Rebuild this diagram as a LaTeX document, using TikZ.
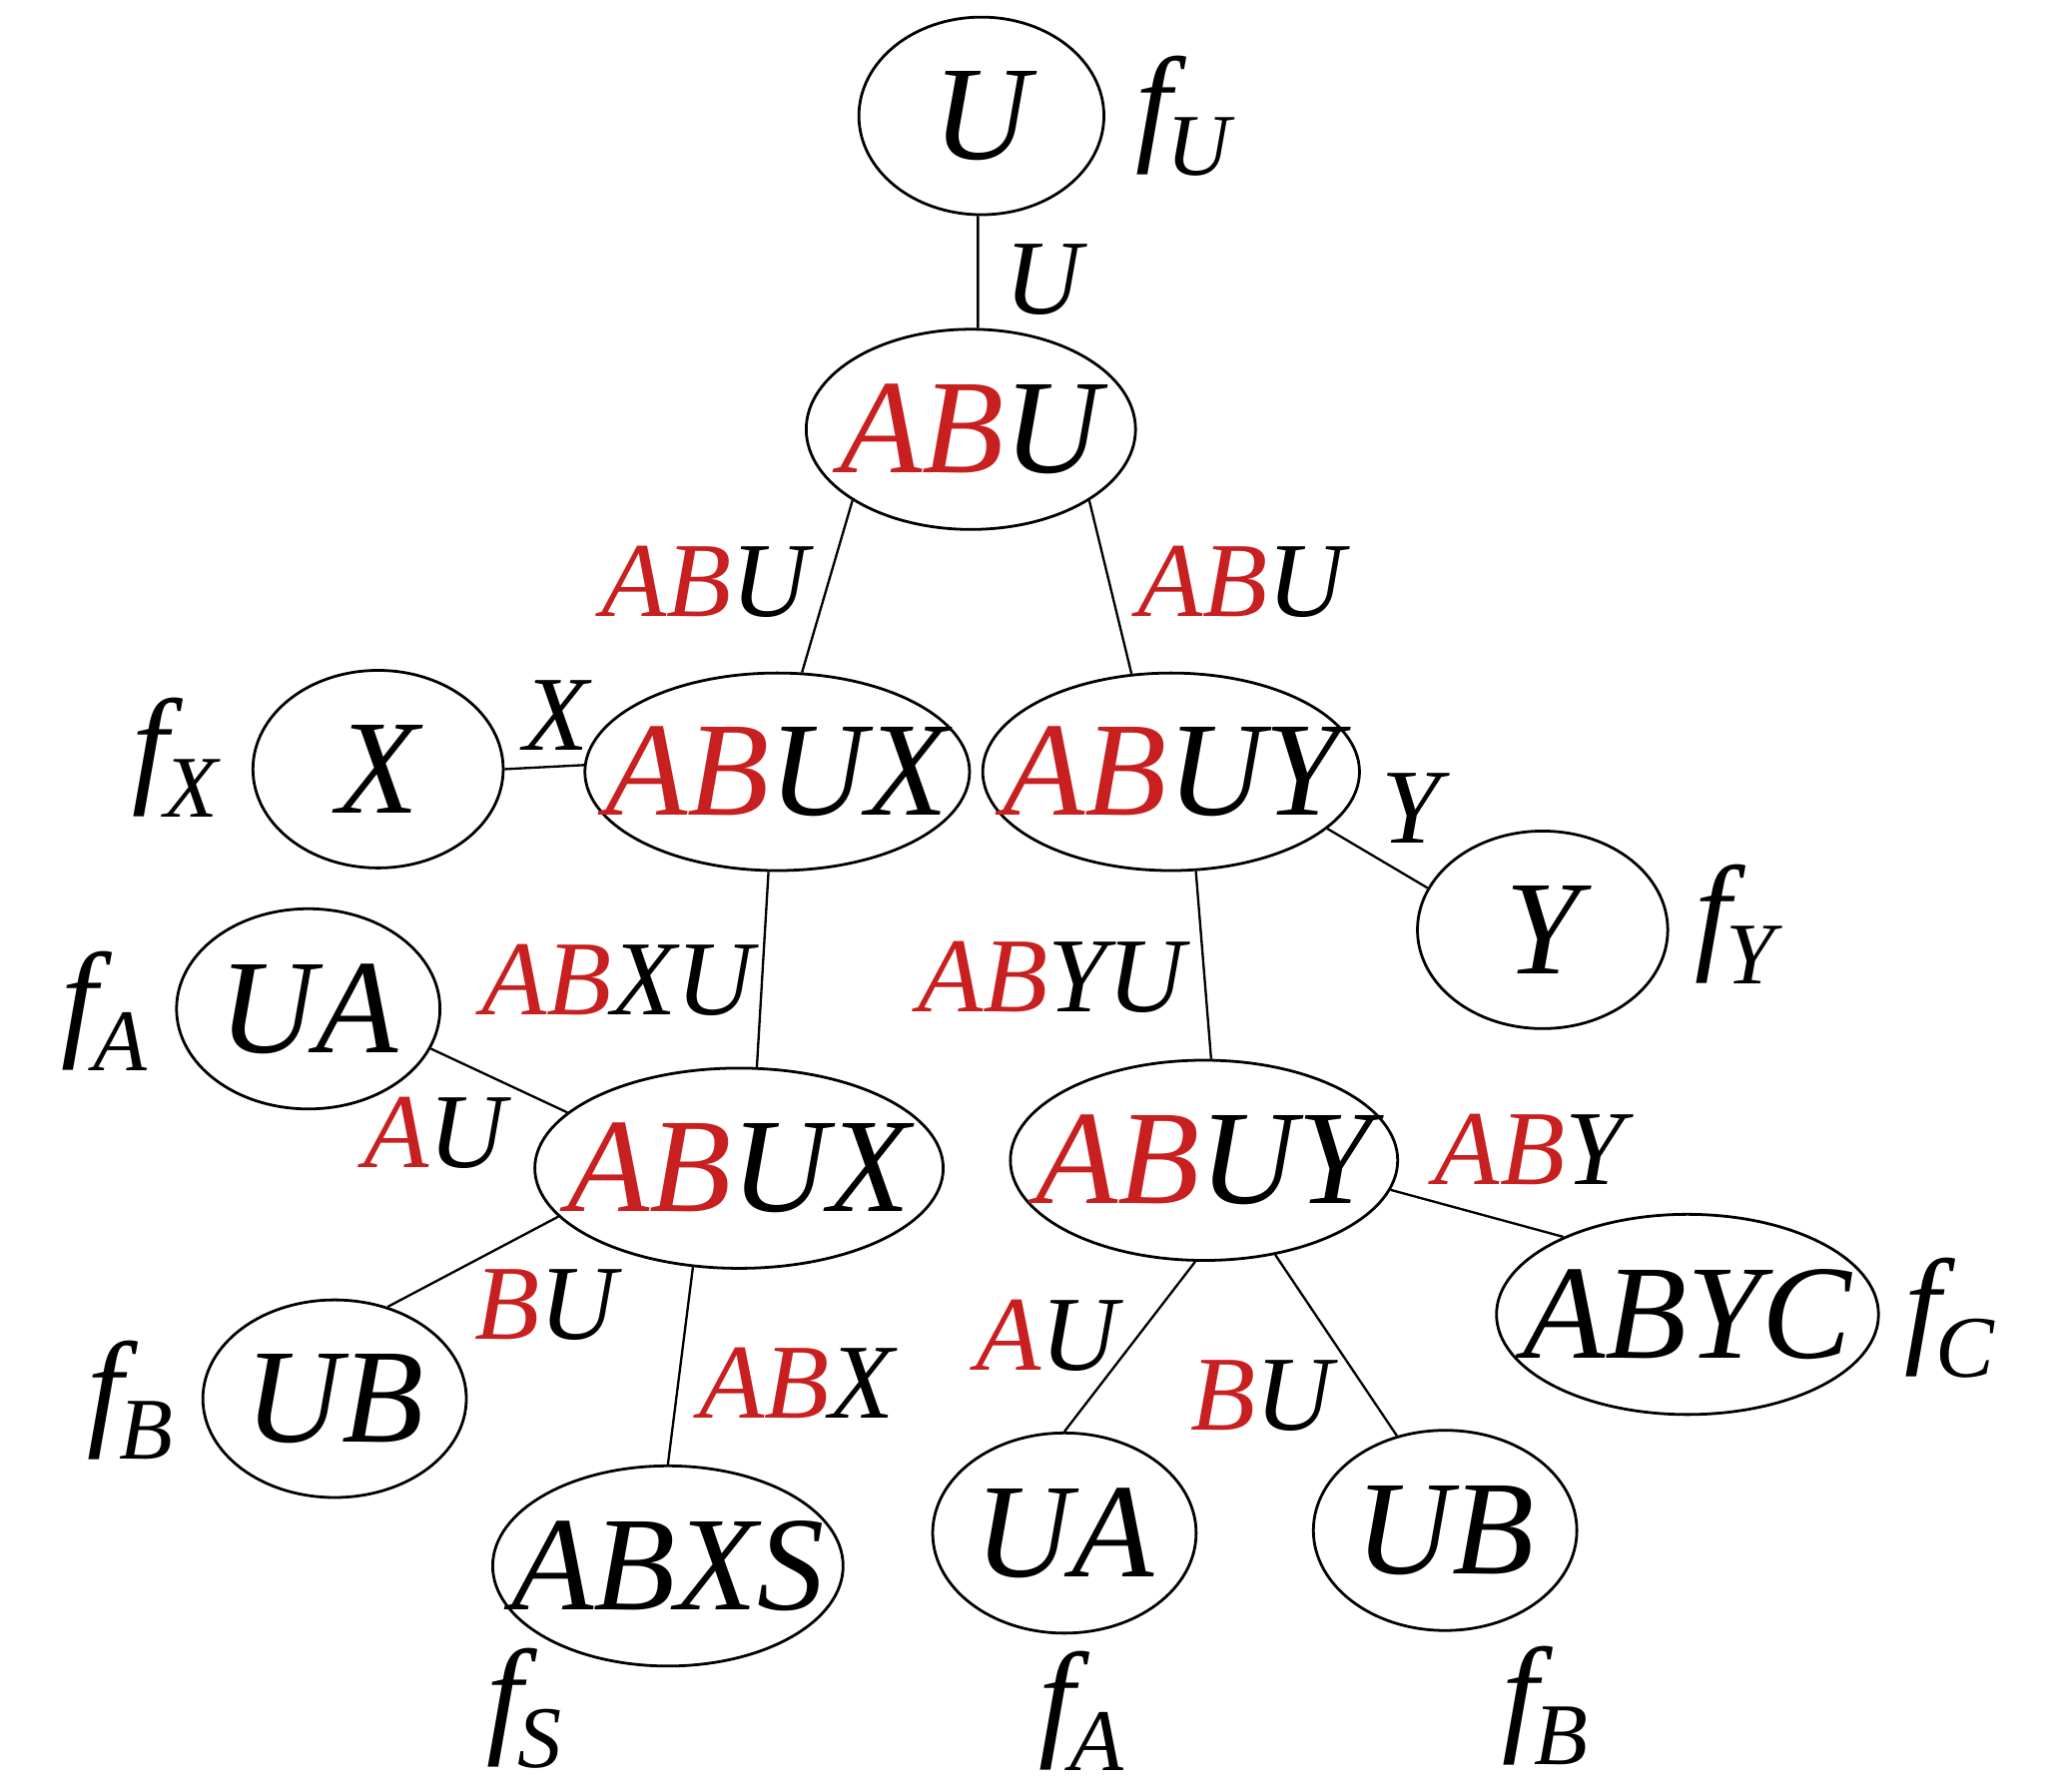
\documentclass[tikz,border=0pt]{standalone}
\usepackage{fontspec}
\setmainfont{Liberation Serif}
\usetikzlibrary{shapes.geometric}
\definecolor{myred}{RGB}{200,32,32}
\newcommand{\R}[1]{\textcolor{myred}{#1}}
\newcommand{\fsub}[1]{f\kern-1pt\raisebox{-6pt}{\fontsize{19}{19}\selectfont\itshape #1}}
\tikzset{
  ell/.style={draw, ellipse, inner sep=0pt, line width=0.6pt},
  intext/.style={font=\fontsize{29}{29}\selectfont\itshape, inner sep=0pt},
  elab/.style={font=\fontsize{23}{23}\selectfont\itshape, inner sep=0pt},
  flab/.style={font=\fontsize{28}{28}\selectfont\itshape, inner sep=0pt},
  conn/.style={line width=0.5pt}
}
\newcommand{\E}[5]{\node[ell, minimum width=#3cm, minimum height=#4cm, label={[intext]center:{#5}}] (#1) at #2 {};}
\begin{document}
\begin{tikzpicture}
\useasboundingbox (0,0) rectangle (15.6,-13.6);
% ellipses
\E{U}{(7.45,-0.88)}{1.86}{1.50}{U}
\E{ABU}{(7.37,-3.26)}{2.50}{1.52}{\R{AB}U}
\E{X}{(2.87,-5.84)}{1.90}{1.50}{X}
\E{ABUXt}{(5.90,-5.86)}{2.92}{1.50}{\R{AB}UX}
\E{ABUYt}{(8.89,-5.86)}{2.86}{1.50}{\R{AB}UY}
\E{Y}{(11.71,-7.06)}{1.90}{1.50}{Y}
\E{UAl}{(2.34,-7.66)}{2.00}{1.52}{UA}
\E{ABUXb}{(5.61,-8.87)}{3.10}{1.52}{\R{AB}UX}
\E{ABUYb}{(9.14,-8.81)}{2.94}{1.52}{\R{AB}UY}
\E{ABYC}{(12.81,-9.98)}{2.90}{1.52}{ABYC}
\E{UBl}{(2.54,-10.62)}{2.00}{1.50}{UB}
\E{ABXS}{(5.07,-11.89)}{2.66}{1.52}{ABXS}
\E{UAb}{(8.08,-11.64)}{2.00}{1.52}{UA}
\E{UBb}{(10.97,-11.62)}{2.00}{1.52}{UB}
% connectors
\draw[conn] (U.268) -- (ABU.86);
\draw[conn] (ABU.211) -- (ABUXt.76);
\draw[conn] (ABU.329) -- (ABUYt.112);
\draw[conn] (X.east) -- (ABUXt.178);
\draw[conn] (ABUYt.340) -- (Y.160);
\draw[conn] (ABUXt.265) -- (ABUXb.80);
\draw[conn] (ABUYt.284) -- (ABUYb.86);
\draw[conn] (UAl.342) -- (ABUXb.162);
\draw[conn] (ABUXb.195) -- (UBl.60);
\draw[conn] (ABUXb.245) -- (ABXS.90);
\draw[conn] (ABUYb.351) -- (ABYC.148);
\draw[conn] (ABUYb.265) -- (UAb.90);
\draw[conn] (ABUYb.307) -- (UBb.117);
% edge labels
\node[elab] (l1) at (7.92,-2.12) {U};
\node[elab] (l2) at (5.35,-4.42) {\R{AB}U};
\node[elab] (l3) at (9.42,-4.42) {\R{AB}U};
\node[elab] (l4) at (4.22,-5.43) {X};
\node[elab] (l5) at (10.71,-6.14) {Y};
\node[elab] (l6) at (4.69,-7.44) {\R{AB}XU};
\node[elab] (l7) at (7.98,-7.42) {\R{AB}YU};
\node[elab] (l8) at (3.30,-8.60) {\R{A}U};
\node[elab] (l9) at (4.14,-9.91) {\R{B}U};
\node[elab] (l10) at (6.05,-10.50) {\R{AB}X};
\node[elab] (l11) at (11.61,-8.73) {\R{AB}Y};
\node[elab] (l12) at (7.95,-10.14) {\R{A}U};
\node[elab] (l13) at (9.58,-10.60) {\R{B}U};
% factor labels
\node[flab] (fU) at (8.98,-0.88) {\fsub{U}};
\node[flab] (fX) at (1.33,-5.75) {\fsub{X}};
\node[flab] (fY) at (13.17,-7.02) {\fsub{Y}};
\node[flab] (fA1) at (0.79,-7.68) {\fsub{A}};
\node[flab] (fB1) at (0.99,-10.63) {\fsub{B}};
\node[flab] (fC) at (14.80,-10.01) {\fsub{C}};
\node[flab] (fS) at (3.98,-12.97) {\fsub{S}};
\node[flab] (fA2) at (8.21,-12.99) {\fsub{A}};
\node[flab] (fB2) at (11.73,-12.95) {\fsub{B}};
\end{tikzpicture}
\end{document}
